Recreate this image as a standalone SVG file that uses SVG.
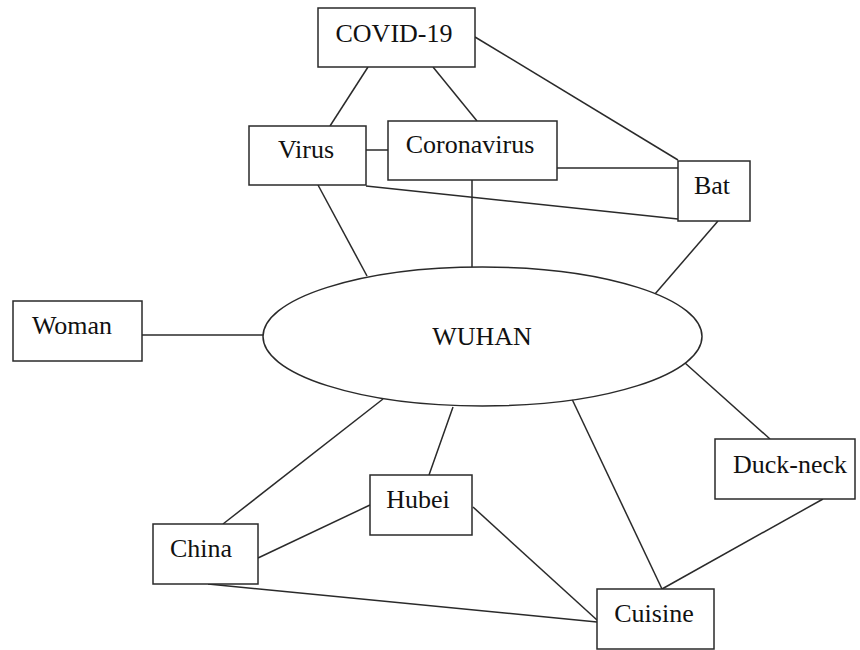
<svg xmlns="http://www.w3.org/2000/svg" width="860" height="650" viewBox="0 0 860 650">
  <style>
    .box { fill: #ffffff; stroke: #2a2a2a; stroke-width: 1.5; }
    .edge { stroke: #2a2a2a; stroke-width: 1.5; fill: none; }
    .label { font-family: "Liberation Serif", "Times New Roman", serif; font-size: 26px; fill: #111111; text-anchor: middle; }
  </style>
  <rect width="860" height="650" fill="#ffffff"/>

  <!-- connectors -->
  <g id="connectors">
    <line class="edge" x1="368" y1="67" x2="330" y2="126"/>
    <line class="edge" x1="433" y1="67" x2="477" y2="121"/>
    <line class="edge" x1="475" y1="37" x2="678" y2="160"/>
    <line class="edge" x1="366" y1="150" x2="388" y2="150"/>
    <line class="edge" x1="472" y1="180" x2="472" y2="267"/>
    <line class="edge" x1="557" y1="168" x2="678" y2="168"/>
    <line class="edge" x1="366" y1="186" x2="678" y2="219"/>
    <line class="edge" x1="318" y1="185" x2="367" y2="276"/>
    <line class="edge" x1="718" y1="221" x2="655" y2="294"/>
    <line class="edge" x1="142" y1="335" x2="263" y2="335"/>
    <line class="edge" x1="383" y1="399" x2="223" y2="524"/>
    <line class="edge" x1="453" y1="407" x2="429" y2="475"/>
    <line class="edge" x1="571" y1="397" x2="662" y2="589"/>
    <line class="edge" x1="685" y1="363" x2="770" y2="439"/>
    <line class="edge" x1="258" y1="558" x2="370" y2="505"/>
    <line class="edge" x1="208" y1="584" x2="597" y2="622"/>
    <line class="edge" x1="473" y1="507" x2="597" y2="620"/>
    <line class="edge" x1="823" y1="499" x2="662" y2="589"/>
  </g>

  <!-- nodes -->
  <g id="covid19">
    <rect class="box" x="318" y="8" width="157" height="59"/>
    <text class="label" x="394" y="42">COVID-19</text>
  </g>
  <g id="virus">
    <rect class="box" x="249" y="126" width="117" height="59"/>
    <text class="label" x="306" y="158">Virus</text>
  </g>
  <g id="coronavirus">
    <rect class="box" x="388" y="121" width="169" height="59"/>
    <text class="label" x="470" y="153">Coronavirus</text>
  </g>
  <g id="bat">
    <rect class="box" x="678" y="161" width="72" height="60"/>
    <text class="label" x="712" y="194">Bat</text>
  </g>
  <g id="woman">
    <rect class="box" x="13" y="301" width="129" height="60"/>
    <text class="label" x="72" y="334">Woman</text>
  </g>
  <g id="wuhan">
    <ellipse class="box" cx="482.5" cy="336.5" rx="219.5" ry="69.5"/>
    <text class="label" x="482" y="345">WUHAN</text>
  </g>
  <g id="hubei">
    <rect class="box" x="370" y="475" width="102" height="60"/>
    <text class="label" x="418" y="508">Hubei</text>
  </g>
  <g id="china">
    <rect class="box" x="153" y="524" width="105" height="60"/>
    <text class="label" x="201" y="557">China</text>
  </g>
  <g id="duck-neck">
    <rect class="box" x="715" y="439" width="140" height="60"/>
    <text class="label" x="790" y="473">Duck-neck</text>
  </g>
  <g id="cuisine">
    <rect class="box" x="597" y="589" width="117" height="60"/>
    <text class="label" x="654" y="622">Cuisine</text>
  </g>
</svg>
